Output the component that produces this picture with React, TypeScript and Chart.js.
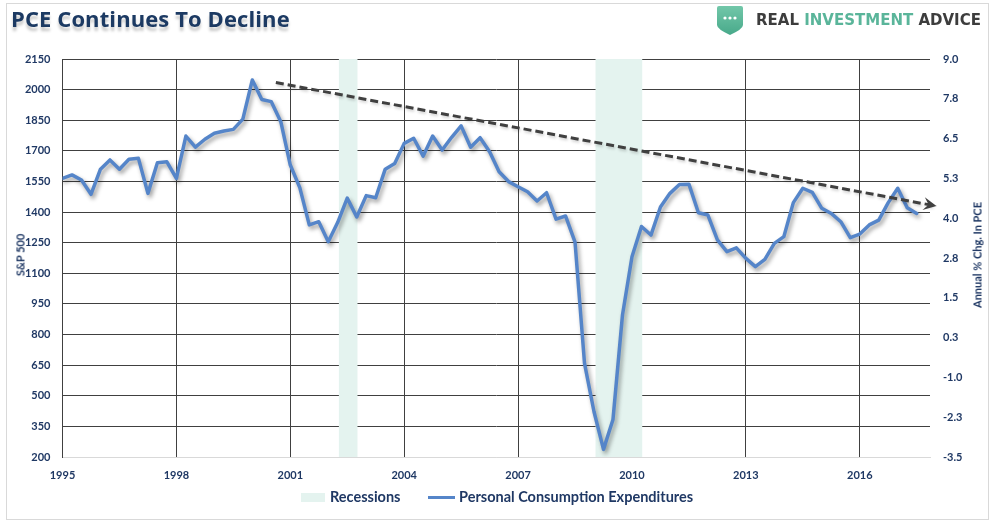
import React, { useEffect, useRef } from 'react';
import { Chart, registerables } from 'chart.js';

Chart.register(...registerables);

// ---- Data ----
const START_YEAR = 1995; // first quarter of the series
const pceValues = [
  5.25, 5.36, 5.20, 4.75, 5.54, 5.83, 5.54, 5.85, 5.88, 4.78,
  5.74, 5.77, 5.25, 6.58, 6.23, 6.48, 6.67, 6.74, 6.79, 7.11,
  8.34, 7.73, 7.66, 7.03, 5.67, 4.96, 3.79, 3.89, 3.26, 3.87,
  4.63, 4.04, 4.71, 4.64, 5.54, 5.72, 6.35, 6.51, 5.95, 6.58,
  6.14, 6.54, 6.90, 6.23, 6.53, 6.09, 5.46, 5.15, 4.99, 4.83,
  4.54, 4.80, 3.97, 4.07, 3.25, -0.56, -2.08, -3.26, -2.32, 0.96,
  2.79, 3.74, 3.47, 4.35, 4.78, 5.06, 5.07, 4.17, 4.10, 3.32,
  2.95, 3.07, 2.74, 2.48, 2.71, 3.21, 3.42, 4.49, 4.94, 4.81,
  4.31, 4.15, 3.89, 3.39, 3.50, 3.79, 3.94, 4.49, 4.94, 4.33,
  4.15,
];
const quarterDates = pceValues.map((_, i) => START_YEAR + i / 4);

const recessionStarts = [2002.28, 2009.04];
const recessionEnds = [2002.77, 2010.27];

const trendYears = [2000.62, 2018.02];
const trendValues = [8.26, 4.38];

const xTickYears = [1995, 1998, 2001, 2004, 2007, 2010, 2013, 2016];
const xMin = 1995;
const xMax = 2017.85;

const leftMin = 200;
const leftMax = 2150;
const leftStep = 150;

const rightMin = -3.5;
const rightMax = 9;
const rightStep = 1.25;

// ---- Styles ----
const NAVY = '#1f3864';
const LINE_BLUE = '#5585c9';
const BAND = '#e4f3ef';
const GRID = '#404040';
const AXIS_LIGHT = '#d9d9d9';
const tickFont = { family: 'Lato', weight: 'bold' as const, size: 11 };

const bandPlugin = {
  id: 'recessionBands',
  beforeDatasetsDraw(chart: any) {
    const { ctx, chartArea, scales } = chart;
    const x = scales.x;
    ctx.save();
    ctx.fillStyle = BAND;
    recessionStarts.forEach((s, i) => {
      const x0 = x.getPixelForValue(s);
      const x1 = x.getPixelForValue(recessionEnds[i]);
      ctx.fillRect(x0, chartArea.top, x1 - x0, chartArea.bottom - chartArea.top);
    });
    ctx.restore();
  },
};

const shadowPlugin = {
  id: 'lineShadow',
  beforeDatasetDraw(chart: any, args: any) {
    const ctx = chart.ctx;
    ctx.save();
    if (args.index === 1) {
      ctx.shadowColor = 'rgba(0,0,0,0.38)';
      ctx.shadowBlur = 4;
      ctx.shadowOffsetX = 2;
      ctx.shadowOffsetY = 3;
    } else {
      ctx.shadowColor = 'rgba(0,0,0,0.18)';
      ctx.shadowBlur = 3;
      ctx.shadowOffsetX = 1;
      ctx.shadowOffsetY = 2;
    }
  },
  afterDatasetDraw(chart: any) {
    chart.ctx.restore();
  },
};

const arrowPlugin = {
  id: 'trendArrow',
  afterDatasetsDraw(chart: any) {
    const meta = chart.getDatasetMeta(0);
    const pts = meta.data;
    if (!pts || pts.length < 2) return;
    const a = pts[pts.length - 2];
    const b = pts[pts.length - 1];
    const dx = b.x - a.x;
    const dy = b.y - a.y;
    const len = Math.hypot(dx, dy) || 1;
    const ux = dx / len;
    const uy = dy / len;
    const px = -uy;
    const py = ux;
    const L = 13;
    const W = 6.5;
    const N = 8;
    const ctx = chart.ctx;
    ctx.save();
    ctx.fillStyle = GRID;
    ctx.beginPath();
    ctx.moveTo(b.x, b.y);
    ctx.lineTo(b.x - ux * L + px * W, b.y - uy * L + py * W);
    ctx.lineTo(b.x - ux * N, b.y - uy * N);
    ctx.lineTo(b.x - ux * L - px * W, b.y - uy * L - py * W);
    ctx.closePath();
    ctx.fill();
    ctx.restore();
  },
};

export default function App() {
  const canvasRef = useRef<HTMLCanvasElement>(null);

  useEffect(() => {
    const canvas = canvasRef.current;
    if (!canvas) return;
    const chart = new Chart(canvas, {
      type: 'line',
      data: {
        datasets: [
          {
            label: 'Trend',
            data: trendYears.map((x, i) => ({ x, y: trendValues[i] })),
            yAxisID: 'y1',
            borderColor: GRID,
            borderWidth: 3,
            borderDash: [8, 4],
            pointRadius: 0,
            tension: 0,
            clip: false as any,
          },
          {
            label: 'Personal Consumption Expenditures',
            data: quarterDates.map((x, i) => ({ x, y: pceValues[i] })),
            yAxisID: 'y1',
            borderColor: LINE_BLUE,
            borderWidth: 3.5,
            borderJoinStyle: 'round',
            borderCapStyle: 'round',
            pointRadius: 0,
            tension: 0,
          },
        ],
      },
      options: {
        responsive: false,
        animation: false,
        layout: { padding: { top: 59, left: 0, right: 0, bottom: 40 } },
        plugins: {
          legend: { display: false },
          tooltip: { enabled: false },
        },
        scales: {
          x: {
            type: 'linear',
            min: xMin,
            max: xMax,
            afterBuildTicks: (s: any) => {
              s.ticks = xTickYears.map((v) => ({ value: v }));
            },
            afterFit: (s: any) => {
              s.height = 30;
            },
            grid: { color: GRID, lineWidth: 1, drawTicks: false },
            border: { display: true, color: AXIS_LIGHT, width: 1 },
            ticks: {
              autoSkip: false,
              maxRotation: 0,
              padding: 12,
              color: NAVY,
              font: tickFont,
              callback: (v: any) => String(v),
            },
          },
          y: {
            position: 'left',
            min: leftMin,
            max: leftMax,
            afterFit: (s: any) => {
              s.width = 62.5;
            },
            grid: {
              color: (c: any) => (c.tick && c.tick.value === leftMin ? AXIS_LIGHT : GRID),
              lineWidth: 1,
              drawTicks: false,
            },
            border: { display: true, color: GRID, width: 1 },
            ticks: {
              stepSize: leftStep,
              padding: 12,
              color: NAVY,
              font: tickFont,
              callback: (v: any) => String(v),
            },
          },
          y1: {
            position: 'right',
            min: rightMin,
            max: rightMax,
            afterFit: (s: any) => {
              s.width = 62;
            },
            grid: { display: false, drawTicks: false },
            border: { display: false },
            ticks: {
              stepSize: rightStep,
              padding: 13,
              color: NAVY,
              font: tickFont,
              callback: (v: any) => Number(v).toFixed(1),
            },
          },
        },
      } as any,
      plugins: [bandPlugin, shadowPlugin, arrowPlugin],
    });
    return () => chart.destroy();
  }, []);

  const abs = (extra: React.CSSProperties): React.CSSProperties => ({
    position: 'absolute',
    pointerEvents: 'none',
    whiteSpace: 'nowrap',
    ...extra,
  });

  return (
    <div style={{ position: 'relative', width: 992, height: 527, background: '#fff', overflow: 'hidden' }}>
      <style>{`body{margin:0}`}</style>
      <div style={abs({ left: 6, top: 3, width: 983, height: 517, border: '1px solid #d9d9d9', boxSizing: 'border-box' })} />
      <canvas
        ref={canvasRef}
        width={992}
        height={527}
        style={{ position: 'absolute', left: 0, top: 0, width: 992, height: 527 }}
      />
      {/* Title */}
      <div
        style={abs({
          left: 11,
          top: 5,
          fontFamily: '"Open Sans", sans-serif',
          fontWeight: 700,
          fontSize: 22,
          lineHeight: '26px',
          letterSpacing: 0.1,
          color: '#1c3a63',
          textShadow: '0 4px 3px rgba(0,0,0,0.22)',
        })}
      >
        PCE Continues To Decline
      </div>
      {/* Logo */}
      <svg style={abs({ left: 716, top: 5, width: 28, height: 31 })} viewBox="0 0 28 31">
        <defs>
          <linearGradient id="shieldGrad" x1="0" y1="0" x2="0" y2="1">
            <stop offset="0" stopColor="#72c7a9" />
            <stop offset="1" stopColor="#48a98a" />
          </linearGradient>
        </defs>
        <path d="M1,3 Q1,1 3,1 L25,1 Q27,1 27,3 L27,20 Q27,24 14,30 Q1,24 1,20 Z" fill="url(#shieldGrad)" />
        <circle cx="9" cy="13" r="1.6" fill="#fff" />
        <circle cx="14" cy="13" r="1.6" fill="#fff" />
        <circle cx="19" cy="13" r="1.6" fill="#fff" />
      </svg>
      <div
        style={abs({
          left: 756,
          top: 11,
          fontFamily: '"DejaVu Sans", sans-serif',
          fontWeight: 700,
          fontSize: 15,
          lineHeight: '18px',
          color: '#3d3d3d',
        })}
      >
        REAL <span style={{ color: '#5ab59a' }}>INVESTMENT</span> ADVICE
      </div>
      {/* Axis titles */}
      <div
        style={abs({
          left: 20,
          top: 255,
          transform: 'translate(-50%, -50%) rotate(-90deg)',
          fontFamily: 'Lato, sans-serif',
          fontWeight: 700,
          fontSize: 11,
          color: NAVY,
        })}
      >
        S&amp;P 500
      </div>
      <div
        style={abs({
          left: 977,
          top: 255,
          transform: 'translate(-50%, -50%) rotate(-90deg)',
          fontFamily: 'Lato, sans-serif',
          fontWeight: 700,
          fontSize: 11,
          color: NAVY,
        })}
      >
        Annual % Chg. In PCE
      </div>
      {/* Legend */}
      <div style={abs({ left: 301, top: 493, width: 24, height: 9, background: BAND })} />
      <div
        style={abs({
          left: 330,
          top: 488,
          fontFamily: 'Lato, sans-serif',
          fontWeight: 700,
          fontSize: 14.5,
          lineHeight: '18px',
          color: NAVY,
        })}
      >
        Recessions
      </div>
      <div style={abs({ left: 428, top: 496, width: 27, height: 3, background: LINE_BLUE })} />
      <div
        style={abs({
          left: 459,
          top: 488,
          fontFamily: 'Lato, sans-serif',
          fontWeight: 700,
          fontSize: 14.5,
          lineHeight: '18px',
          color: NAVY,
        })}
      >
        Personal Consumption Expenditures
      </div>
    </div>
  );
}
